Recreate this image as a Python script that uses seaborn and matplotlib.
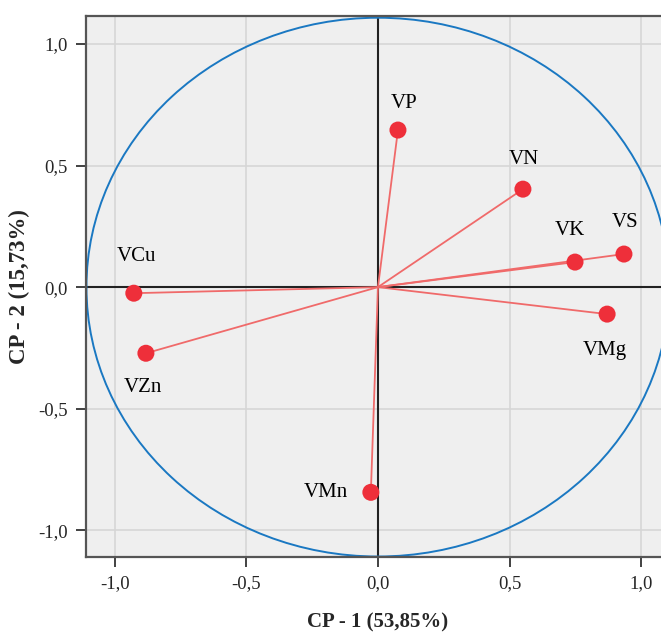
import matplotlib
matplotlib.use("Agg")
import matplotlib.pyplot as plt
import seaborn as sns
import numpy as np
import pandas as pd
from matplotlib.patches import Circle

variables = ["VP", "VN", "VK", "VS", "VMg", "VCu", "VZn", "VMn"]
cp1 = [0.076, 0.551, 0.749, 0.935, 0.871, -0.928, -0.882, -0.027]
cp2 = [0.646, 0.403, 0.103, 0.136, -0.111, -0.025, -0.272, -0.844]
tick_vals = [-1.0, -0.5, 0.0, 0.5, 1.0]
tick_labels = ["-1,0", "-0,5", "0,0", "0,5", "1,0"]
xlabel = "CP - 1 (53,85%)"
ylabel = "CP - 2 (15,73%)"

df = pd.DataFrame({"var": variables, "cp1": cp1, "cp2": cp2})

sns.set_style("white")
plt.rcParams["font.family"] = ["Liberation Serif", "DejaVu Serif"]

fig = plt.figure(figsize=(6.61, 6.36), dpi=100)
ax = fig.add_axes([0.130, 0.1242, 0.8836, 0.8506])
ax.set_facecolor("#efefef")

lim = 1.11
ax.set_xlim(-lim, lim)
ax.set_ylim(-lim, 1.115)

for v in tick_vals:
    if v != 0:
        ax.axvline(v, color="#d6d6d6", lw=1.2, zorder=0)
        ax.axhline(v, color="#d6d6d6", lw=1.2, zorder=0)
ax.axvline(0, color="#222222", lw=1.5, zorder=1)
ax.axhline(0, color="#222222", lw=1.5, zorder=1)

circ = Circle((0, 0), 1.108, fill=False, edgecolor="#1a78c2", lw=1.4, zorder=2)
ax.add_patch(circ)

for x, y in zip(df["cp1"], df["cp2"]):
    ax.plot([0, x], [0, y], color="#f06a6a", lw=1.3, zorder=3)

sns.scatterplot(data=df, x="cp1", y="cp2", ax=ax, color="#ee2f3a", s=150,
                edgecolor="none", zorder=4, legend=False)

offsets = {
    "VP": (0.025, 0.11, "center"),
    "VN": (0.005, 0.12, "center"),
    "VK": (-0.02, 0.13, "center"),
    "VS": (0.005, 0.13, "center"),
    "VMg": (-0.01, -0.15, "center"),
    "VCu": (0.01, 0.15, "center"),
    "VZn": (-0.01, -0.14, "center"),
    "VMn": (-0.085, 0.0, "right"),
}
for name, x, y in zip(df["var"], df["cp1"], df["cp2"]):
    dx, dy, ha = offsets[name]
    ax.text(x + dx, y + dy, name, ha=ha, va="center", fontsize=15, color="black", zorder=5)

ax.set_xticks(tick_vals)
ax.set_xticklabels(tick_labels)
ax.set_yticks(tick_vals)
ax.set_yticklabels(tick_labels)
ax.tick_params(axis="both", direction="out", length=7, width=1.3, color="#333333",
               labelsize=13.5, pad=6, bottom=True, left=True)

for side in ["left", "bottom", "top"]:
    ax.spines[side].set_color("#555555")
    ax.spines[side].set_linewidth(1.6)
ax.spines["right"].set_visible(False)

ax.set_xlabel(xlabel, fontsize=15, fontweight="bold", labelpad=15)
ax.set_ylabel(ylabel, fontsize=16.5, fontweight="bold", labelpad=6)

fig.savefig("out.png", dpi=100)
